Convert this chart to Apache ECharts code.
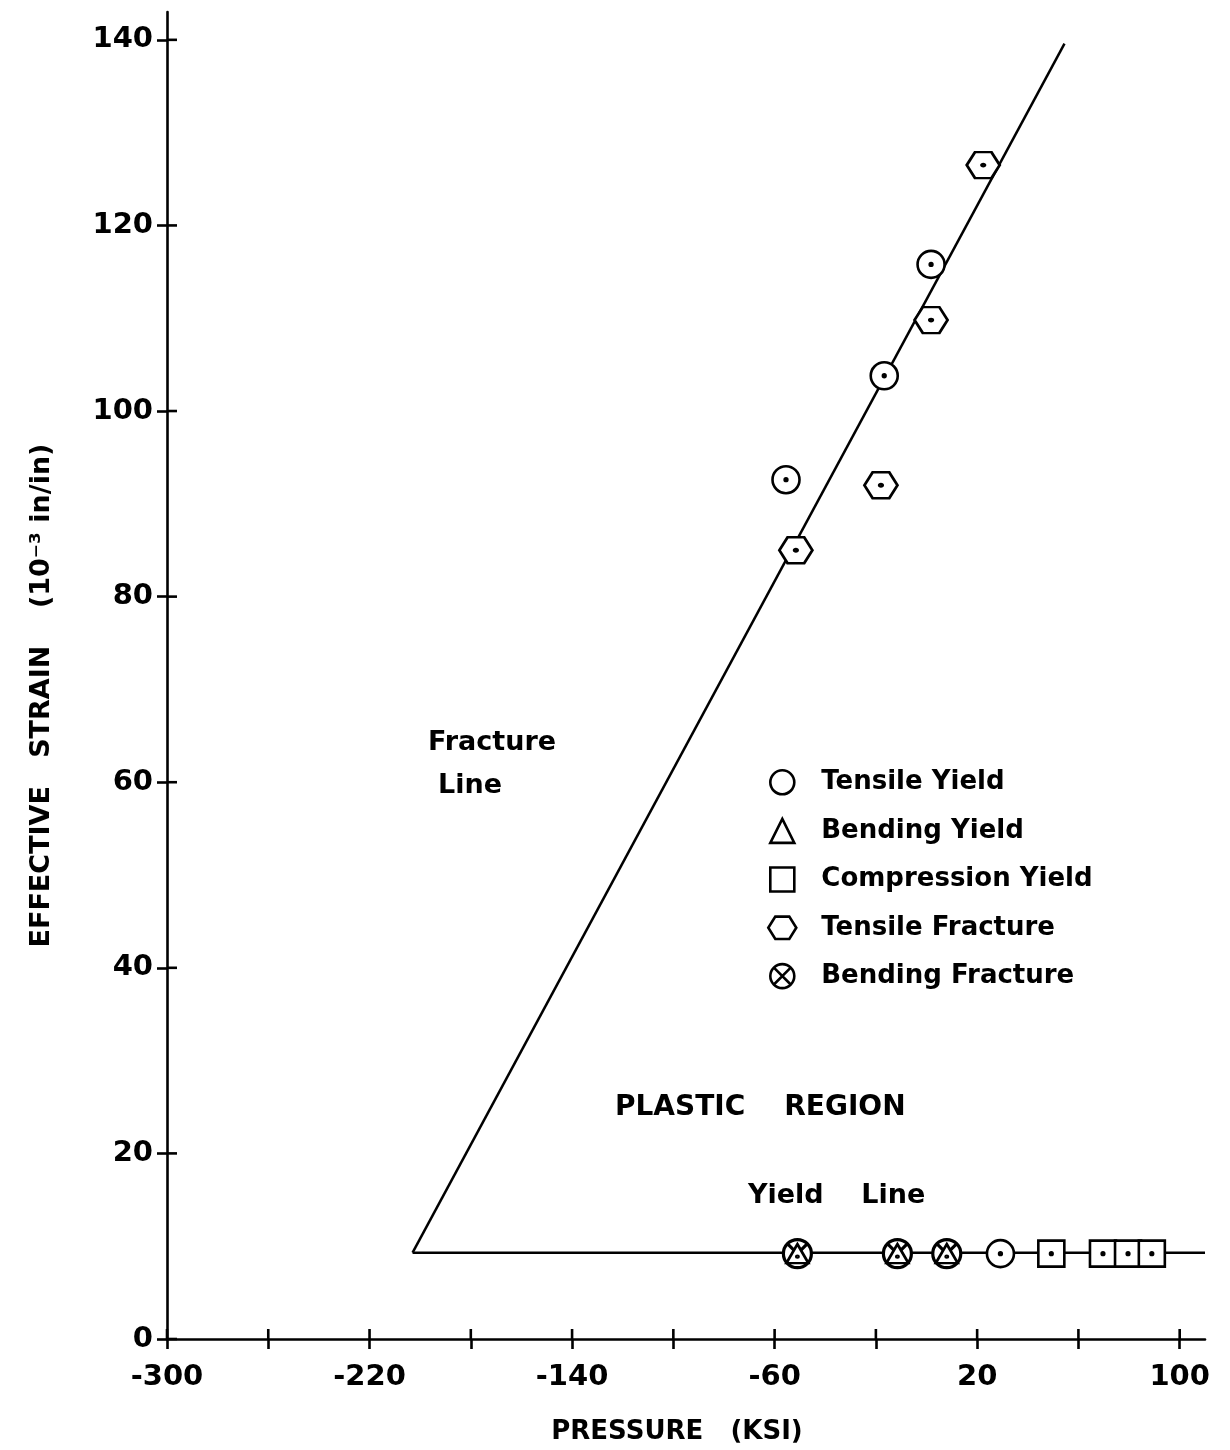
<!DOCTYPE html>
<html><head><meta charset="utf-8">
<script src="https://cdn.jsdelivr.net/npm/echarts@6/dist/echarts.min.js"></script>
<style>html,body{margin:0;padding:0;background:#fff}#c{width:1230px;height:1450px}</style>
</head><body><div id="c"></div>
<script>
// ---- data ----
const xTickValues = [-300, -260, -220, -180, -140, -100, -60, -20, 20, 60, 100];
const xLabelValues = [-300, -220, -140, -60, 20, 100];
const yTickValues = [0, 20, 40, 60, 80, 100, 120, 140];

const tensileYield = [[-55.5, 92.6], [-16.7, 103.8], [1.8, 115.8], [29.2, 9.2]];
const bendingYield = [[-51, 9.2], [-11.5, 9.2], [8, 9.2]];
const compressionYield = [[49.3, 9.2], [69.7, 9.2], [79.6, 9.2], [89, 9.2]];
const tensileFracture = [[-51.6, 85.0], [-18, 92.0], [1.8, 109.8], [22.4, 126.5]];
const bendingFracture = [[-51, 9.2], [-11.5, 9.2], [8, 9.2]];

const fractureLine = [[-203, 9.3], [54.5, 139.6]];
const yieldLine = [[-203, 9.3], [110, 9.3]];

const X_MIN = -300, X_MAX = 110, Y_MIN = 0, Y_MAX = 143;

// ---- symbols ----
const dot = (cx, cy) => ` M${cx - 5},${cy} A5,5 0 1,0 ${cx + 5},${cy} A5,5 0 1,0 ${cx - 5},${cy} Z`;
const CIRCLE = 'M0,50 A50,50 0 1,0 100,50 A50,50 0 1,0 0,50 Z';
const TRI = 'M50,0 L100,100 L0,100 Z';
const SQUARE = 'M0,0 L100,0 L100,100 L0,100 Z';
const HEX = 'M0,50 L25,0 L75,0 L100,50 L75,100 L25,100 Z';
const HEX_ICON = 'M0,40 L25,0 L75,0 L100,40 L75,80 L25,80 Z';
const OTIMES = CIRCLE + ' M15,15 L85,85 M85,15 L15,85';

const FONT = 'DejaVu Sans';
const black = '#000';
const markerStyle = { color: '#fff', borderColor: black, borderWidth: 2.6, opacity: 1 };
const TICK_IN = 10;

const chart = echarts.init(document.getElementById('c'), null, { renderer: 'canvas' });

const option = {
  animation: false,
  backgroundColor: '#fff',
  grid: { left: 167, right: 25, top: 12, bottom: 111 },
  xAxis: {
    type: 'value', min: X_MIN, max: X_MAX,
    position: 'bottom',
    name: 'PRESSURE   (KSI)', nameLocation: 'middle', nameGap: 80,
    nameTextStyle: { fontFamily: FONT, fontSize: 26, fontWeight: 'bold', color: black, padding: [0, 18, 0, 0] },
    axisLine: { onZero: false, lineStyle: { color: black, width: 2.6 } },
    axisTick: { show: true, length: 10, customValues: xTickValues, lineStyle: { color: black, width: 2.6 } },
    axisLabel: { customValues: xLabelValues, margin: 24, fontFamily: FONT, fontSize: 29, fontWeight: 'bold', color: black },
    splitLine: { show: false }
  },
  yAxis: {
    type: 'value', min: Y_MIN, max: Y_MAX,
    position: 'left',
    name: 'EFFECTIVE   STRAIN    (10⁻³ in/in)', nameLocation: 'middle', nameGap: 112,
    nameTextStyle: { fontFamily: FONT, fontSize: 27, fontWeight: 'bold', color: black, padding: [0, 40, 0, 0] },
    axisLine: { onZero: false, lineStyle: { color: black, width: 2.6 } },
    axisTick: { show: true, length: 10, customValues: yTickValues, lineStyle: { color: black, width: 2.6 } },
    axisLabel: { customValues: yTickValues, margin: 14, fontFamily: FONT, fontSize: 29, fontWeight: 'bold', color: black },
    splitLine: { show: false }
  },
  legend: {
    orient: 'vertical', left: 762, top: 764,
    itemWidth: 28, itemHeight: 24, itemGap: 22,
    icon: 'circle',
    itemStyle: { color: '#fff', borderColor: black, borderWidth: 2.6 },
    textStyle: { fontFamily: FONT, fontSize: 26, fontWeight: 'bold', color: black, padding: [0, 0, 0, 20] },
    data: [
      { name: 'Tensile Yield', icon: 'path://' + CIRCLE },
      { name: 'Bending Yield', icon: 'path://' + TRI },
      { name: 'Compression Yield', icon: 'path://' + SQUARE },
      { name: 'Tensile Fracture', icon: 'path://' + HEX_ICON },
      { name: 'Bending Fracture', icon: 'path://' + OTIMES }
    ]
  },
  series: [
    // inner halves of the crossing axis ticks, positioned through the axis scales
    { name: 'x ticks inner', type: 'custom', silent: true, z: 2,
      data: xTickValues.map(v => [v, Y_MIN]),
      renderItem: (params, api) => {
        const p = api.coord([api.value(0), api.value(1)]);
        return { type: 'line', shape: { x1: p[0], y1: p[1], x2: p[0], y2: p[1] - TICK_IN },
          style: { stroke: black, lineWidth: 2.6 } };
      } },
    { name: 'y ticks inner', type: 'custom', silent: true, z: 2,
      data: yTickValues.map(v => [X_MIN, v]),
      renderItem: (params, api) => {
        const p = api.coord([api.value(0), api.value(1)]);
        return { type: 'line', shape: { x1: p[0], y1: p[1], x2: p[0] + TICK_IN, y2: p[1] },
          style: { stroke: black, lineWidth: 2.6 } };
      } },
    { name: 'fracture line', type: 'line', data: fractureLine, symbol: 'none',
      lineStyle: { color: black, width: 2.5 }, z: 1, silent: true },
    { name: 'yield line', type: 'line', data: yieldLine, symbol: 'none',
      lineStyle: { color: black, width: 2.5 }, z: 1, silent: true },
    { name: 'Bending Fracture', type: 'scatter', data: bendingFracture,
      symbol: 'path://' + OTIMES, symbolSize: 28, itemStyle: Object.assign({}, markerStyle, { borderWidth: 3.2 }), z: 3 },
    { name: 'Tensile Yield', type: 'scatter', data: tensileYield,
      symbol: 'path://' + CIRCLE + dot(50, 50), symbolSize: 27, itemStyle: markerStyle, z: 3 },
    { name: 'Bending Yield', type: 'scatter', data: bendingYield,
      symbol: 'path://' + TRI + dot(50, 66), symbolSize: [22, 19], itemStyle: markerStyle, z: 4 },
    { name: 'Compression Yield', type: 'scatter', data: compressionYield,
      symbol: 'path://' + SQUARE + dot(50, 50), symbolSize: 26, itemStyle: markerStyle, z: 3 },
    { name: 'Tensile Fracture', type: 'scatter', data: tensileFracture,
      symbol: 'path://' + HEX + dot(50, 50), symbolSize: [33, 26], itemStyle: markerStyle, z: 3 }
  ],
  graphic: [
    { type: 'text', left: 428, top: 729, style: { text: 'Fracture', font: `bold 27px "${FONT}"`, fill: black } },
    { type: 'text', left: 438, top: 772, style: { text: 'Line', font: `bold 27px "${FONT}"`, fill: black } },
    { type: 'text', left: 615, top: 1094, style: { text: 'PLASTIC    REGION', font: `bold 28px "${FONT}"`, fill: black } },
    { type: 'text', left: 748, top: 1182, style: { text: 'Yield    Line', font: `bold 27px "${FONT}"`, fill: black } }
  ]
};
chart.setOption(option);
</script>
</body></html>
